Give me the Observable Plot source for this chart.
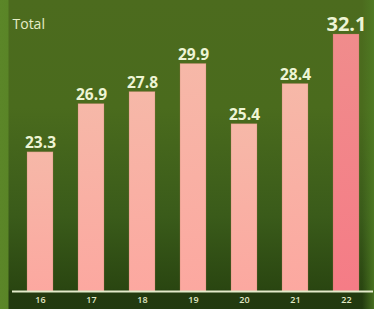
<!DOCTYPE html>
<html>
<head>
<meta charset="utf-8">
<script src="https://cdn.jsdelivr.net/npm/d3@7"></script>
<script src="https://cdn.jsdelivr.net/npm/@observablehq/plot@0.6"></script>
<style>
  html, body { margin: 0; padding: 0; background: #2b4512; }
  #chart svg { display: block; }
</style>
</head>
<body>
<div id="chart"></div>
<script>
const years = ["16", "17", "18", "19", "20", "21", "22"];
const totals = [23.3, 26.9, 27.8, 29.9, 25.4, 28.4, 32.1];
const highlight = [false, false, false, false, false, false, true];
const yDomain = [12.9, 32.1];
const title = "Total";

const data = years.map((y, i) => ({year: y, value: totals[i], hi: highlight[i]}));

const bg = [
  "linear-gradient(to right, #5b8628 0px, #5a8527 8px, rgba(0,0,0,0) 9px)",
  "linear-gradient(to left, rgba(80,125,36,0.8) 0px, rgba(80,125,36,0.0) 12px)",
  "linear-gradient(to bottom, #4c6b1e 0%, #4a6b1d 35%, #3a5b1a 70%, #2a4611 93.5%, #233a0f 94.5%, #223a10 100%)"
].join(",");

function gradientDefs() {
  const g = d3.create("svg:defs");
  const mk = (id, top, bottom) => {
    const lg = g.append("linearGradient").attr("id", id)
      .attr("x1", 0).attr("y1", 0).attr("x2", 0).attr("y2", 1);
    lg.append("stop").attr("offset", "0%").attr("stop-color", top);
    lg.append("stop").attr("offset", "100%").attr("stop-color", bottom);
  };
  mk("barReg", "#f6b8a8", "#fca8a0");
  mk("barHi", "#f08c8c", "#f57c86");
  return g.node();
}

const chart = Plot.plot({
  width: 374,
  height: 309,
  marginLeft: 12,
  marginRight: 1,
  marginTop: 34,
  marginBottom: 18,
  style: {background: bg, overflow: "visible"},
  x: {domain: years, paddingInner: 0.5, paddingOuter: 0.25, axis: null},
  y: {domain: yDomain, axis: null},
  marks: [
    gradientDefs,
    Plot.barY(data, {
      x: "year", y1: yDomain[0], y2: "value",
      fill: d => d.hi ? "url(#barHi)" : "url(#barReg)",
      stroke: "#b07a5a", strokeOpacity: 0.35, strokeWidth: 0.8
    }),
    Plot.ruleY([yDomain[0]], {stroke: "#e4ebcb", strokeWidth: 2}),
    Plot.text(data, {
      x: "year", y: "value",
      text: d => d.value.toFixed(1),
      lineAnchor: "bottom",
      dy: -4,
      fill: "#eef4d4",
      fontFamily: "Open Sans",
      fontWeight: 700,
      fontSize: d => d.hi ? 20 : 15.5
    }),
    Plot.text(data, {
      x: "year", y: yDomain[0],
      text: "year",
      lineAnchor: "top", dy: 5,
      fill: "#e2e9c6",
      fontFamily: "Open Sans",
      fontWeight: 600,
      fontSize: 9
    }),
    Plot.text([title], {
      frameAnchor: "top-left", dx: 0, dy: -15,
      lineAnchor: "top", textAnchor: "start",
      fill: "#e6eec8",
      fontFamily: "Open Sans",
      fontSize: 14,
      letterSpacing: "-0.6px"
    })
  ]
});
document.getElementById("chart").appendChild(chart);
</script>
</body>
</html>
